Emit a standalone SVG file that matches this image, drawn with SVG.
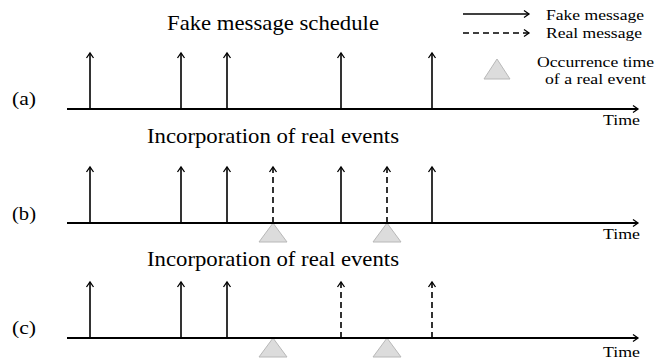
<svg xmlns="http://www.w3.org/2000/svg" width="668" height="361" viewBox="0 0 668 361">
<defs>
<marker id="ah" markerWidth="10" markerHeight="10" refX="6" refY="5" orient="auto" markerUnits="userSpaceOnUse">
<path d="M1,1.5 L6,5 L1,8.5" fill="none" stroke="#000" stroke-width="1.3"/>
</marker>
</defs>
<style>
.t{font-family:"Liberation Serif","Times New Roman",serif;fill:#000}
.title{font-size:21px}
.lab{font-size:18px}
.leg{font-size:15px}
.time{font-size:15px}
.ax{stroke:#000;stroke-width:1.8;fill:none}
.f{stroke:#000;stroke-width:1.6;fill:none}
.r{stroke:#000;stroke-width:1.6;fill:none;stroke-dasharray:6,4}
.tri{fill:#dcdcdc;stroke:#b8b8b8;stroke-width:1}
</style>
<rect width="668" height="361" fill="#fff"/>

<g id="legend">
<line x1="463" y1="14" x2="529" y2="14" class="f" marker-end="url(#ah)"/>
<text x="546" y="20" class="t leg" textLength="98" lengthAdjust="spacingAndGlyphs">Fake message</text>
<line x1="463" y1="33" x2="529" y2="33" class="r" stroke-dasharray="7,5" marker-end="url(#ah)"/>
<text x="546" y="38" class="t leg" textLength="96" lengthAdjust="spacingAndGlyphs">Real message</text>
<polygon points="497,59 484,79 510,79" class="tri"/>
<text x="537" y="67" class="t leg" textLength="117" lengthAdjust="spacingAndGlyphs">Occurrence time</text>
<text x="545" y="84" class="t leg" textLength="101" lengthAdjust="spacingAndGlyphs">of a real event</text>
</g>

<g id="panel-a">
<text x="167" y="30" class="t title" textLength="212" lengthAdjust="spacingAndGlyphs">Fake message schedule</text>
<text x="12" y="105" class="t lab" textLength="24" lengthAdjust="spacingAndGlyphs">(a)</text>
<text x="603" y="125" class="t time" textLength="37" lengthAdjust="spacingAndGlyphs">Time</text>
</g>
<g id="panel-b">
<text x="147" y="143" class="t title" textLength="252" lengthAdjust="spacingAndGlyphs">Incorporation of real events</text>
<text x="12" y="220" class="t lab" textLength="24" lengthAdjust="spacingAndGlyphs">(b)</text>
<text x="603" y="239" class="t time" textLength="37" lengthAdjust="spacingAndGlyphs">Time</text>
<polygon points="273,223 259,242 287,242" class="tri"/>
<polygon points="387,223 373,242 401,242" class="tri"/>
</g>
<g id="panel-c">
<text x="147" y="266" class="t title" textLength="252" lengthAdjust="spacingAndGlyphs">Incorporation of real events</text>
<text x="12" y="334" class="t lab" textLength="24" lengthAdjust="spacingAndGlyphs">(c)</text>
<text x="603" y="357" class="t time" textLength="37" lengthAdjust="spacingAndGlyphs">Time</text>
<polygon points="273,338 259,357 287,357" class="tri"/>
<polygon points="387,338 373,357 401,357" class="tri"/>
</g>

<g id="connectors">
<line x1="67" y1="109" x2="638" y2="109" class="ax" marker-end="url(#ah)"/>
<line x1="90" y1="109" x2="90" y2="53" class="f" marker-end="url(#ah)"/>
<line x1="181" y1="109" x2="181" y2="53" class="f" marker-end="url(#ah)"/>
<line x1="227" y1="109" x2="227" y2="53" class="f" marker-end="url(#ah)"/>
<line x1="341" y1="109" x2="341" y2="53" class="f" marker-end="url(#ah)"/>
<line x1="432" y1="109" x2="432" y2="53" class="f" marker-end="url(#ah)"/>

<line x1="67" y1="223" x2="638" y2="223" class="ax" marker-end="url(#ah)"/>
<line x1="90" y1="223" x2="90" y2="167" class="f" marker-end="url(#ah)"/>
<line x1="181" y1="223" x2="181" y2="167" class="f" marker-end="url(#ah)"/>
<line x1="227" y1="223" x2="227" y2="167" class="f" marker-end="url(#ah)"/>
<line x1="273" y1="223" x2="273" y2="167" class="r" marker-end="url(#ah)"/>
<line x1="341" y1="223" x2="341" y2="167" class="f" marker-end="url(#ah)"/>
<line x1="387" y1="223" x2="387" y2="167" class="r" marker-end="url(#ah)"/>
<line x1="432" y1="223" x2="432" y2="167" class="f" marker-end="url(#ah)"/>

<line x1="67" y1="338" x2="638" y2="338" class="ax" marker-end="url(#ah)"/>
<line x1="90" y1="338" x2="90" y2="282" class="f" marker-end="url(#ah)"/>
<line x1="181" y1="338" x2="181" y2="282" class="f" marker-end="url(#ah)"/>
<line x1="227" y1="338" x2="227" y2="282" class="f" marker-end="url(#ah)"/>
<line x1="341" y1="338" x2="341" y2="282" class="r" marker-end="url(#ah)"/>
<line x1="432" y1="338" x2="432" y2="282" class="r" marker-end="url(#ah)"/>
</g>
</svg>
